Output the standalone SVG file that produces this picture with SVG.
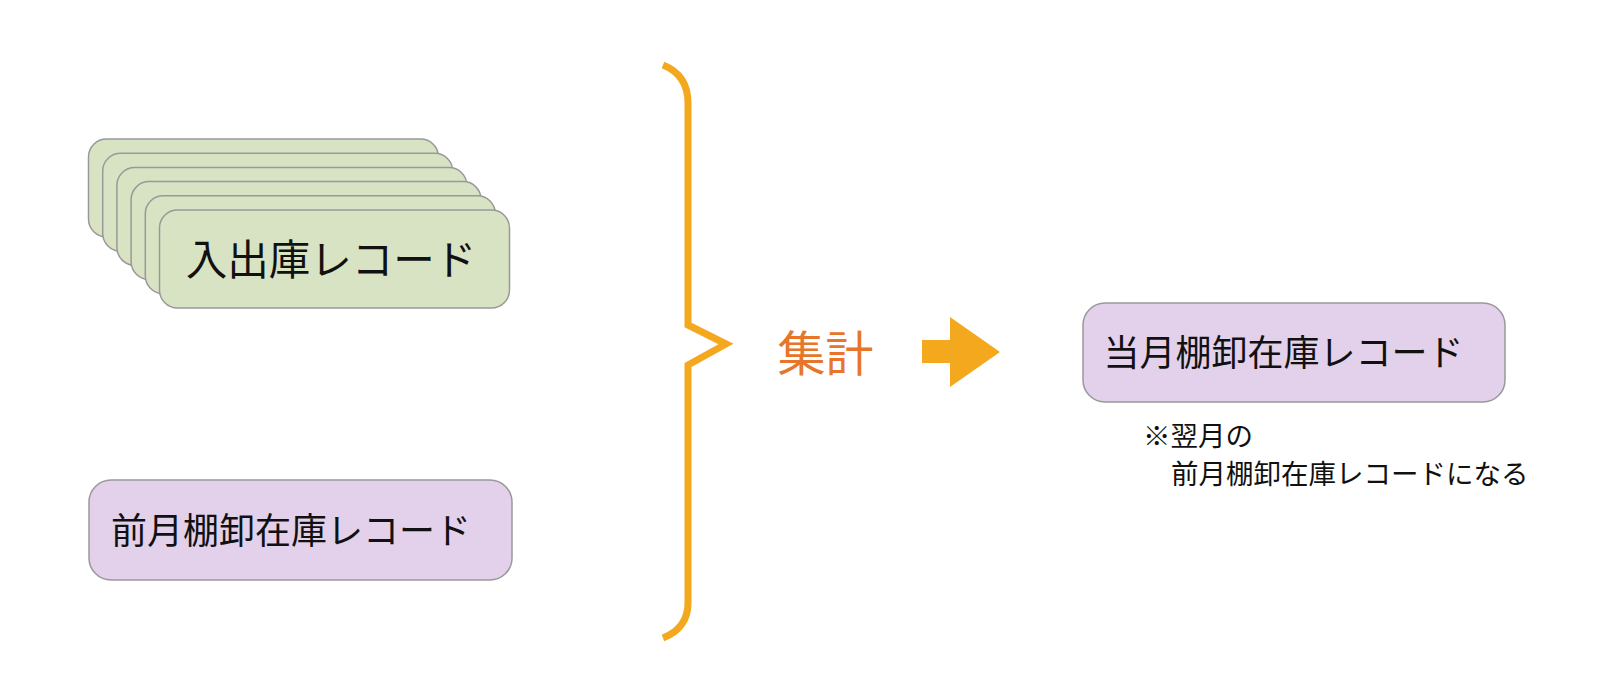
<svg xmlns="http://www.w3.org/2000/svg" width="1600" height="695" viewBox="0 0 1600 695">
<style>
.rec{fill:#D8E3C4;stroke:#999999;stroke-width:1.5}
.inv{fill:#E3D0EA;stroke:#999999;stroke-width:1.5}
.t{font-family:"Noto Sans CJK JP","Noto Sans",sans-serif;fill:#111111}
.c{text-anchor:middle}
</style>
<rect width="1600" height="695" fill="#FFFFFF"/>
<g id="io-records">
<rect class="rec" x="88.5" y="139" width="350" height="98" rx="18"/>
<rect class="rec" x="102.7" y="153.2" width="350" height="98" rx="18"/>
<rect class="rec" x="116.9" y="167.4" width="350" height="98" rx="18"/>
<rect class="rec" x="131.1" y="181.6" width="350" height="98" rx="18"/>
<rect class="rec" x="145.3" y="195.8" width="350" height="98" rx="18"/>
<rect class="rec" x="159.5" y="210" width="350" height="98" rx="18"/>
<text class="t c" x="331" y="275" font-size="41.5">入出庫レコード</text>
</g>
<g id="prev-inventory">
<rect class="inv" x="89" y="480" width="423" height="100" rx="22"/>
<text class="t c" x="291" y="544" font-size="36">前月棚卸在庫レコード</text>
</g>
<g id="connectors">
<path d="M663,65 Q688,75 688,103 L688,325 L726,344 L688,365 L688,603 Q688,628 663,638" fill="none" stroke="#F4A81E" stroke-width="7"/>
<polygon points="922,340 950,340 950,317 1000,352 950,387 950,363 922,363" fill="#F4A81E"/>
</g>
<g id="aggregate">
<text x="825.5" y="371" font-size="48" class="c" font-family="'Noto Sans CJK JP','Noto Sans',sans-serif" fill="#E8762A">集計</text>
</g>
<g id="current-inventory">
<rect class="inv" x="1083" y="303" width="422" height="99" rx="22"/>
<text class="t c" x="1283.5" y="366" font-size="36">当月棚卸在庫レコード</text>
</g>
<g id="note">
<text class="t" x="1143" y="446" font-size="27.5">※翌月の</text>
<text class="t" x="1171" y="484" font-size="27.5">前月棚卸在庫レコードになる</text>
</g>
</svg>
